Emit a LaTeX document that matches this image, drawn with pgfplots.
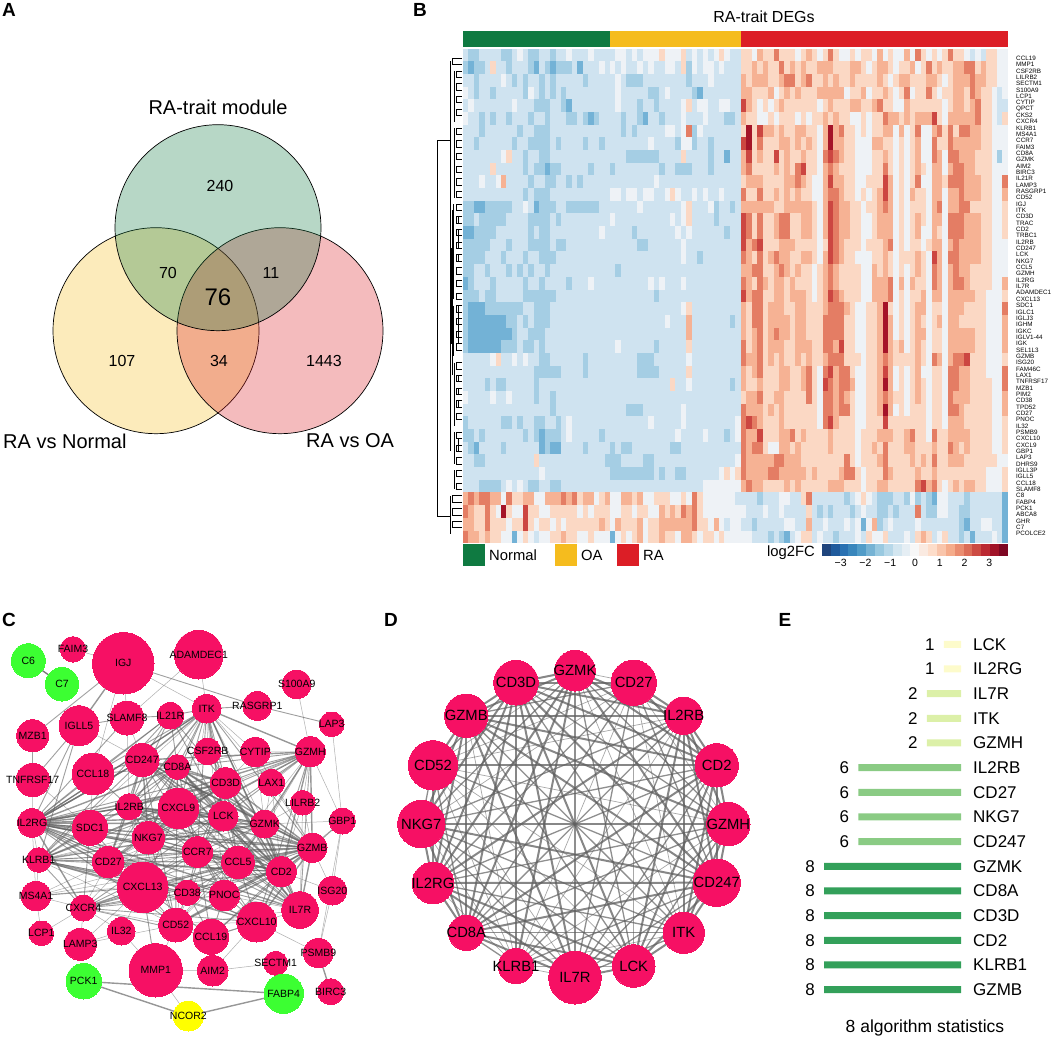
\documentclass[border=0pt]{standalone}
\usepackage{fontspec}
\setmainfont{Liberation Sans}
\usepackage{pgfplots}
\usepackage{pgfplotstable}
\pgfplotsset{compat=1.18}
\newcommand\fs[1]{\fontsize{#1}{#1}\selectfont}
\definecolor{gN}{RGB}{15,122,65}
\definecolor{yO}{RGB}{245,188,30}
\definecolor{rR}{RGB}{220,30,38}
\definecolor{edgeg}{RGB}{95,95,95}
\definecolor{eA}{RGB}{253,251,203}
\definecolor{eB}{RGB}{220,240,168}
\definecolor{eC}{RGB}{138,203,132}
\definecolor{eD}{RGB}{51,160,90}
\pgfdeclareplotmark{hcell}{\pgfpathrectangle{\pgfpoint{-2.85pt}{-6.45pt}}{\pgfpoint{5.7pt}{12.9pt}}\pgfusepathqfill}
\pgfdeclareplotmark{cbcell}{\pgfpathrectangle{\pgfpoint{-4.55pt}{-6pt}}{\pgfpoint{9.1pt}{12pt}}\pgfusepathqfill}
% heatmap: 39 bands x 100 samples; level 0..9 along the colour key (4 is about log2FC 0)
\pgfplotstableread[header=false]{
3 2 2 3 3 3 3 2 2 3  4 3 2 2 3 3 2 3 3 4  3 3 3 4 3 3 3 3 4 4  3 4 3 4 4 4 5 4 4 4  5 3 4 3 4 3 4 5 4 3  3 5 5 4 6 5 5 7 5 5  5 4 5 6 5 4 5 7 5 4  4 5 4 5 5 4 6 4 5 4  4 6 4 7 5 4 5 4 5 7  5 5 4 3 4 3 5 5 4 4
2 1 2 2 3 5 3 3 2 3  3 3 2 1 3 2 1 2 2 2  3 1 3 3 3 4 3 4 3 4  3 3 4 3 4 3 3 4 4 3  5 2 4 3 4 4 3 4 3 3  3 5 5 6 5 6 5 5 7 5  6 5 6 5 5 6 6 6 5 5  5 6 6 5 4 5 6 6 5 4  5 5 6 4 5 7 5 6 5 5  6 6 7 7 5 6 5 5 4 4
3 3 2 3 3 3 3 4 3 2  3 2 3 3 2 3 2 3 3 3  3 3 2 3 3 3 3 3 4 3  2 2 2 3 3 3 3 3 3 3  3 2 3 3 3 4 3 3 3 3  3 6 5 6 6 6 5 5 6 7  7 5 6 7 5 5 6 5 6 5  5 6 5 5 5 5 6 5 4 5  6 6 5 5 5 6 6 5 4 5  6 6 6 7 6 6 5 5 4 4
4 3 2 3 3 2 3 3 3 3  3 2 4 3 2 3 2 3 2 3  3 3 3 3 3 3 3 3 4 3  3 3 3 3 2 2 3 4 3 3  3 3 2 1 3 3 3 3 3 3  3 6 6 5 5 5 6 4 5 6  5 6 5 5 5 6 6 6 6 6  4 5 5 6 4 5 5 6 5 4  5 7 4 5 5 7 5 4 5 5  6 6 5 7 6 5 5 4 3 4
3 4 3 3 3 3 3 3 3 4  3 3 3 2 2 2 3 3 2 1  3 3 3 3 3 3 3 3 4 3  3 3 2 3 3 2 3 3 3 3  4 5 3 4 4 3 3 4 4 3  3 8 6 5 4 5 4 5 6 5  5 5 5 5 5 4 5 6 5 5  5 6 6 5 5 6 7 5 5 4  4 6 5 5 5 5 5 5 4 5  6 6 5 6 7 5 5 4 3 3
4 3 3 2 3 2 3 3 2 3  3 3 2 3 3 2 3 3 3 2  2 3 2 1 2 3 3 3 3 2  3 3 2 1 3 3 2 3 3 3  4 3 3 3 4 3 3 3 2 2  3 6 5 5 4 4 5 4 5 5  5 4 5 4 5 5 6 5 6 5  5 4 4 5 4 5 5 7 6 6  5 6 5 6 6 6 8 5 4 6  6 6 6 6 7 5 5 4 3 5
3 3 3 2 3 3 3 3 3 3  2 3 3 2 2 2 3 3 3 3  3 3 3 3 3 3 3 3 3 2  3 2 3 3 3 3 3 4 4 3  4 7 2 4 3 3 3 3 3 3  3 5 9 5 8 6 6 5 6 5  5 6 6 5 5 4 6 9 6 7  5 5 4 5 4 5 5 6 6 4  6 4 5 7 4 4 6 7 5 7  5 7 7 6 6 5 5 4 4 4
3 3 2 3 3 3 3 3 3 2  3 3 2 2 2 2 3 2 3 3  3 3 2 3 3 2 3 3 3 3  3 3 3 3 4 3 3 3 3 2  4 4 2 3 3 2 3 3 3 3  3 8 9 5 7 5 5 5 6 6  5 6 5 6 5 4 6 9 6 6  5 5 4 4 4 6 6 5 5 4  5 4 5 6 4 4 7 5 5 7  6 6 6 6 6 5 5 4 4 4
3 3 3 3 3 3 3 4 5 3  3 2 3 3 2 2 3 3 3 3  3 3 3 3 3 3 3 3 3 3  2 2 2 2 2 2 3 3 3 3  5 3 3 3 3 2 3 3 1 3  3 6 8 5 6 5 5 8 5 6  5 5 6 5 5 4 7 8 7 6  5 5 4 4 4 5 5 6 5 4  5 4 5 6 4 4 7 6 4 7  7 6 6 6 5 5 5 4 2 4
3 3 3 3 3 5 3 3 3 3  3 2 3 2 2 1 2 2 3 3  3 3 3 2 3 3 3 2 3 3  3 3 3 3 3 3 2 3 3 2  2 2 3 3 3 2 3 3 3 3  3 6 7 5 5 5 5 6 5 6  5 7 8 5 5 4 6 7 6 5  5 5 4 4 4 5 5 7 5 4  5 4 5 6 5 4 6 6 4 6  7 7 6 6 5 5 5 4 4 4
3 3 3 4 3 3 4 6 3 3  3 3 2 3 3 2 2 3 3 2  3 2 3 3 3 3 3 3 3 3  3 3 3 3 3 4 3 3 3 3  3 3 3 3 3 3 3 3 3 3  3 5 6 6 6 5 5 5 5 6  6 7 6 5 4 4 6 8 6 6  5 5 4 4 5 5 5 8 6 4  5 4 5 7 4 4 6 6 5 7  7 7 6 6 6 5 5 4 4 7
3 3 3 3 3 3 3 3 3 3  3 2 3 2 2 2 3 3 3 3  3 3 3 3 3 3 3 4 4 3  4 4 3 4 4 3 3 4 5 4  3 3 4 3 4 3 3 4 3 3  3 7 5 5 7 5 5 6 5 6  5 6 5 5 4 4 6 7 7 6  5 5 4 5 4 5 6 8 6 4  5 4 6 5 5 4 6 6 4 6  6 7 6 6 6 5 5 4 4 6
2 2 1 1 2 2 2 2 2 3  3 4 3 1 2 2 2 3 3 2  2 2 2 2 2 3 3 3 3 3  3 3 4 3 3 3 3 3 3 3  4 5 3 3 3 4 2 3 3 2  3 6 6 6 6 6 6 5 5 6  6 6 6 6 5 4 6 8 7 6  6 5 5 4 5 5 6 7 6 4  5 4 5 5 5 4 6 7 4 6  6 7 7 5 5 5 5 4 4 5
2 2 3 2 2 2 2 2 3 3  3 3 2 2 2 2 3 2 3 3  3 3 3 3 3 3 3 4 3 3  3 3 3 3 3 3 3 3 4 3  4 5 3 3 3 3 2 3 3 3  3 8 7 5 7 5 5 6 7 7  5 5 6 6 5 4 6 8 7 6  6 5 5 4 4 5 6 6 6 4  5 4 5 6 5 4 6 6 4 7  7 7 6 6 6 5 5 4 4 5
1 1 2 2 2 2 3 3 3 3  3 3 2 3 2 2 3 3 3 3  3 3 3 3 3 4 3 3 3 3  3 2 3 3 3 3 3 3 3 4  3 4 3 3 3 3 3 3 2 3  3 8 7 5 7 5 5 6 7 7  5 5 6 6 5 4 6 8 7 6  6 5 5 4 4 5 6 6 6 4  5 4 5 6 4 4 6 5 4 7  7 7 6 6 6 5 5 4 4 5
2 2 2 2 2 3 3 3 2 3  3 3 2 2 2 2 3 2 2 3  3 3 3 3 3 3 3 3 3 3  3 3 2 2 3 3 3 3 3 3  4 3 3 3 3 3 3 3 3 3  3 8 6 7 8 5 5 5 6 6  6 5 5 5 5 4 5 8 7 6  5 5 5 4 5 5 5 6 7 4  5 4 5 5 4 5 6 6 4 6  7 6 6 6 6 5 5 4 4 4
2 2 2 2 3 3 3 2 3 3  3 2 3 3 2 2 2 3 3 3  3 3 3 3 3 3 3 3 3 3  3 3 3 3 3 3 3 3 3 3  4 3 3 2 3 3 3 3 3 3  3 7 6 5 7 5 6 7 6 6  5 5 6 6 5 4 6 8 7 6  5 5 4 4 4 5 5 6 5 4  5 5 5 6 5 4 8 6 4 7  7 6 6 6 6 5 5 4 4 4
2 2 3 3 2 3 3 3 2 3  2 3 2 3 3 2 3 3 3 3  3 3 3 3 3 3 3 3 2 3  3 3 3 3 3 3 3 3 3 3  3 3 3 3 3 3 3 3 3 3  3 6 6 7 7 5 5 6 7 6  5 6 5 5 4 5 6 7 6 5  5 5 5 4 4 6 5 6 5 4  5 4 5 6 5 4 7 6 4 6  7 6 6 5 5 5 5 4 4 4
1 2 3 3 3 2 3 3 3 3  3 2 3 3 2 3 3 3 3 2  3 3 3 4 3 3 3 3 3 3  3 3 3 3 4 3 4 3 3 3  4 3 3 3 3 3 3 3 3 3  3 7 6 5 7 6 5 6 6 5  6 5 5 5 4 5 6 7 6 5  5 5 5 4 4 6 6 6 7 4  6 4 6 5 5 4 7 6 4 6  7 7 6 5 5 5 5 4 4 6
2 2 2 3 2 2 3 3 3 3  3 2 2 2 2 2 2 3 3 3  3 3 3 3 3 3 3 3 3 3  3 3 3 3 3 2 3 3 3 3  3 3 3 3 3 3 3 3 3 3  3 8 6 7 7 5 5 6 6 5  6 6 6 5 4 5 6 8 7 6  5 5 5 4 4 6 6 6 7 4  5 4 5 5 6 4 6 6 4 6  6 6 6 6 5 5 4 4 4 5
2 1 1 1 2 2 2 2 2 2  2 3 3 2 2 2 3 3 3 3  3 3 3 3 3 3 3 3 3 3  3 3 3 3 3 3 3 3 3 3  4 5 3 3 3 3 3 3 3 3  3 6 5 7 7 5 6 6 6 5  5 6 6 5 5 5 6 7 7 7  6 5 4 4 5 5 6 9 5 4  5 4 5 6 6 4 5 5 4 6  6 6 5 5 5 5 4 4 4 7
2 1 1 1 1 1 1 1 2 2  3 2 3 2 2 2 3 3 3 3  3 3 3 3 3 3 3 3 3 3  3 3 3 3 3 3 3 4 3 3  3 6 3 3 3 3 3 3 3 2  3 6 5 7 7 5 6 6 6 6  5 6 6 5 5 5 7 7 7 7  5 5 4 4 5 5 6 9 6 4  5 4 5 6 5 4 5 6 4 6  6 5 5 5 5 5 4 4 4 6
2 1 1 1 1 1 1 1 1 2  3 3 2 2 2 3 3 3 3 3  3 3 3 3 3 3 3 3 3 3  3 3 3 3 3 3 3 3 3 3  3 6 3 3 3 3 3 3 3 3  3 6 5 6 7 5 6 7 6 6  5 6 6 5 5 5 7 7 7 7  5 5 4 4 5 5 6 9 6 4  5 4 5 6 6 4 5 5 4 6  6 6 6 6 5 5 4 4 4 6
2 1 1 1 1 1 1 2 2 2  3 2 2 3 2 3 3 3 3 3  3 3 3 3 3 3 3 3 4 3  3 3 3 3 3 2 3 3 3 3  3 5 3 3 3 3 3 3 3 3  3 7 5 6 7 5 6 6 6 5  5 6 6 6 5 5 7 7 6 8  5 5 4 4 5 5 6 9 6 5  6 4 5 6 5 4 5 5 4 6  6 6 6 6 5 5 4 4 4 6
3 3 3 3 3 4 5 3 3 4  3 4 3 3 2 2 3 3 3 3  3 3 2 3 3 3 3 3 3 3  3 3 2 2 2 3 3 3 3 3  3 4 3 3 3 3 3 3 3 3  3 7 6 6 7 5 6 5 6 5  5 6 5 6 5 5 6 7 7 7  5 5 5 4 5 5 6 7 6 5  5 5 5 6 5 4 7 6 4 6  7 7 8 5 5 5 4 4 4 5
3 3 3 3 3 3 3 3 3 3  3 3 3 2 2 2 2 2 3 3  3 3 2 3 3 3 3 3 3 3  3 3 2 2 2 2 3 3 3 3  3 5 3 3 3 3 3 3 3 3  3 6 5 6 7 5 5 5 6 6  5 5 6 7 5 4 7 8 6 7  7 5 4 4 5 5 6 8 6 4  5 4 5 6 4 4 5 5 4 7  7 6 6 5 5 5 4 4 4 7
3 3 3 3 2 3 2 2 3 3  3 3 3 2 3 3 3 3 3 3  3 3 3 3 3 3 3 3 3 3  3 3 3 3 3 3 3 3 5 3  3 4 3 3 3 3 3 3 3 2  3 6 5 5 6 5 5 5 6 6  5 5 6 7 5 4 8 7 6 7  7 6 4 4 5 5 6 9 6 4  5 4 5 6 5 4 5 5 4 7  7 6 6 5 5 5 5 4 4 7
4 3 3 3 3 4 3 3 4 3  3 3 3 2 3 3 2 3 3 3  3 3 3 3 3 3 3 3 3 3  3 3 3 3 3 3 3 3 3 3  3 3 3 3 3 3 3 3 3 3  3 5 6 6 7 5 5 6 6 5  5 5 5 7 5 4 7 7 6 7  6 5 4 4 5 5 6 7 6 5  5 4 5 6 5 4 5 5 4 7  6 6 6 5 5 5 5 4 4 6
3 3 3 3 3 3 3 3 3 3  3 3 3 3 3 3 2 3 3 3  3 3 3 3 3 3 3 3 3 3  2 2 2 3 3 3 3 3 3 3  4 3 3 3 3 3 3 3 3 3  3 7 6 6 6 5 6 5 6 5  5 5 5 5 5 4 7 7 6 7  7 5 4 4 5 5 6 9 6 4  5 4 5 5 5 4 5 5 4 7  7 6 5 5 5 5 5 4 4 6
2 3 3 3 3 3 3 2 2 3  2 3 3 2 2 3 3 2 3 4  3 3 3 3 3 3 3 3 3 3  3 3 3 3 4 3 3 3 3 3  4 3 3 3 3 3 3 3 3 3  4 7 8 7 6 5 5 5 6 5  5 5 5 5 5 4 7 8 6 5  5 5 4 4 5 5 5 8 5 5  5 5 5 5 5 4 5 5 4 6  6 6 5 5 5 5 5 4 4 5
2 2 3 2 3 3 3 3 3 3  3 2 3 2 1 2 2 2 3 4  3 3 3 3 3 2 3 3 3 3  3 3 3 3 3 3 3 3 3 4  3 3 3 3 4 3 3 3 2 3  4 7 6 6 8 5 5 5 6 6  7 5 6 5 5 5 5 6 5 5  5 5 4 5 5 5 6 6 6 5  5 6 7 5 5 4 7 5 5 6  6 6 6 5 5 5 5 4 4 5
3 2 1 3 3 3 3 2 3 3  3 3 3 3 1 2 1 1 3 3  3 3 2 3 3 3 3 2 3 2  2 3 3 3 3 3 3 3 2 2  3 3 3 3 3 3 3 3 3 3  3 7 6 7 7 5 4 4 6 6  5 6 5 5 5 5 5 6 5 5  5 5 4 5 5 6 5 7 5 5  5 6 6 5 5 5 6 5 5 7  6 5 6 5 5 5 5 4 4 5
3 3 2 2 3 3 3 3 3 3  3 3 3 5 3 3 3 3 3 3  3 3 3 3 3 3 2 2 2 3  3 3 3 2 2 3 3 3 3 3  3 3 3 3 3 3 3 3 3 3  4 7 6 6 6 6 6 7 7 6  6 6 5 5 5 5 5 5 5 5  7 5 4 5 5 5 6 7 5 5  5 5 6 5 6 5 7 5 5 6  6 6 5 5 5 5 5 5 4 4
3 3 3 3 3 3 3 3 3 3  3 3 3 3 4 3 3 3 3 3  3 3 3 3 3 3 3 2 2 2  2 2 2 2 2 3 2 3 3 2  2 3 3 3 3 3 3 4 5 4  5 7 6 6 6 6 7 7 6 6  6 6 6 5 6 5 5 5 5 6  7 7 5 4 5 5 5 7 6 5  5 5 5 6 5 5 6 5 5 5  5 5 5 5 5 5 4 4 4 5
3 3 3 2 2 2 2 3 4 3  4 3 2 2 3 3 2 2 3 3  3 3 3 3 3 3 3 3 3 3  3 3 3 3 3 3 3 3 3 3  3 3 3 3 4 4 4 4 4 4  4 6 7 6 6 5 5 5 5 6  5 6 5 5 5 5 5 6 6 6  5 5 5 4 5 5 6 6 5 5  5 5 5 7 8 6 7 5 4 5  6 5 6 6 5 5 4 4 4 5
6 7 6 7 7 6 6 4 7 5  5 6 6 4 4 6 6 6 7 6  7 5 6 6 4 5 6 4 4 6  6 5 6 4 4 5 5 5 4 4  5 4 7 5 4 4 4 4 4 4  3 3 3 3 2 3 3 3 4 4  3 3 5 7 3 3 3 3 3 3  2 3 4 5 4 3 2 2 2 3  3 2 4 2 3 2 1 4 4 3  3 3 2 3 3 3 3 3 3 1
7 6 5 5 7 5 4 9 5 4  4 8 5 5 4 4 5 5 5 5  5 4 5 4 5 5 5 4 4 5  5 4 5 5 4 4 6 5 6 5  7 6 7 5 4 4 4 4 4 4  4 4 3 3 3 4 3 3 4 3  3 3 3 5 3 2 3 2 3 3  3 2 3 4 3 3 2 2 3 2  3 3 3 7 3 2 2 4 4 3  3 2 2 3 3 3 3 3 3 1
6 6 5 5 7 5 5 5 4 5  5 8 5 4 5 5 4 5 4 5  5 5 5 5 5 6 5 4 6 5  5 5 6 4 5 5 6 6 6 6  6 6 7 5 5 4 6 4 3 4  4 3 3 2 3 3 3 3 3 4  4 3 3 6 3 3 4 3 3 3  4 3 4 1 4 6 2 3 4 3  3 3 3 4 3 3 3 3 3 3  3 2 1 3 3 4 4 3 3 1
7 6 6 5 6 5 5 4 4 1  4 5 4 3 4 4 5 5 6 5  5 4 4 5 4 4 4 1 4 5  4 5 6 4 5 5 6 5 5 4  6 6 5 4 5 5 4 5 4 4  4 4 4 3 3 3 2 3 2 1  3 4 5 5 3 4 3 3 2 3  3 3 4 3 5 4 4 5 3 3  3 4 3 5 6 5 3 4 5 3  3 2 3 1 3 3 3 4 3 1
}\hm
\pgfplotstableread{
x y r c name
73.0 649.3 12.7 0 FAIM3
123.3 663.3 30.7 0 IGJ
198.7 654.7 24.3 0 ADAMDEC1
28.3 660.7 17 1 C6
62 684.3 16.7 1 C7
296.7 684.3 14.3 0 S100A9
206.7 708.7 14.3 0 ITK
257.3 706 14.3 0 RASGRP1
170.3 715.7 13.3 0 IL21R
127 718 17 0 SLAMF8
79 725.7 20 0 IGLL5
331.7 724.3 12.3 0 LAP3
32.7 735.7 16 0 MZB1
142.3 760 16.7 0 CD247
207.7 751.3 13.3 0 CSF2RB
255.3 752 14.7 0 CYTIP
310.3 751.7 15 0 GZMH
177.3 767 12.3 0 CD8A
93 774 20.7 0 CCL18
32.7 780 16.7 0 TNFRSF17
225.7 783 15.3 0 CD3D
271.3 782.7 13.3 0 LAX1
302.7 802.7 12.3 0 LILRB2
178.3 808.3 20.3 0 CXCL9
129.3 806.7 13 0 IL2RB
223.3 816.3 14.7 0 LCK
32 823 14.3 0 IL2RG
342.3 821 13 0 GBP1
264.7 824 14 0 GZMK
90 827.7 17.7 0 SDC1
148.3 837.7 16.3 0 NKG7
312.3 847.7 14.7 0 GZMB
197.3 852 15.3 0 CCR7
238 862.3 16.3 0 CCL5
38.7 860 12.3 0 KLRB1
108.3 862 15.7 0 CD27
281.3 871.7 15 0 CD2
142.7 887.3 25.3 0 CXCL13
187.3 892.7 12.7 0 CD38
332.3 890.7 14.3 0 ISG20
224.3 895.3 15.3 0 PNOC
36 896 14.7 0 MS4A1
83.3 908 13 0 CXCR4
300 910 18.3 0 IL7R
256.7 922 20 0 CXCL10
175.7 925 17 0 CD52
121.3 931.3 13.7 0 IL32
41.3 933.3 12.3 0 LCP1
211 936.7 17.7 0 CCL19
80.3 944.3 16 0 LAMP3
318.3 953 14.7 0 PSMB9
212.7 970.7 15.3 0 AIM2
155.7 970.3 26.7 0 MMP1
275.7 963.3 12 0 SECTM1
83.7 981.3 17.7 1 PCK1
283.7 993.7 19.7 1 FABP4
330.7 991.7 13 0 BIRC3
188.3 1016 15 2 NCOR2
}\Cn
\pgfplotstableread{
x y r cid name
575 670.7 20.3 28 GZMK
633.7 682.7 22.7 35 CD27
683.7 715.7 18.7 24 IL2RB
716.7 765.3 21.7 36 CD2
728.3 824 21.7 16 GZMH
716.7 882.7 23.7 13 CD247
683.7 932.7 20.7 6 ITK
633.7 966 21.3 25 LCK
575 977.7 26.3 43 IL7R
516 966 17.7 34 KLRB1
466.3 932.7 17.7 17 CD8A
433 883 20.7 26 IL2RG
421.3 824 23.7 30 NKG7
433 765.3 24.7 45 CD52
466.3 715.7 21.7 31 GZMB
516 682.7 22.3 20 CD3D
}\Dn
% network edges of panel D (row numbers of \Dn)
\def\Dthick{0/2,0/3,0/5,0/9,0/10,0/11,0/14,0/15,1/2,1/3,1/15,2/3,2/4,2/5,2/6,2/7,2/11,2/14,2/15,3/4,3/5,3/6,3/7,3/10,3/13,3/14,3/15,4/5,4/6,4/12,4/14,5/6,5/7,5/10,5/11,5/12,5/14,5/15,6/7,7/8,7/10,7/11,7/15,8/10,8/11,8/14,8/15,9/15,10/11,10/12,10/14,10/15,11/12,11/14,11/15,12/14,12/15,13/14,14/15}
\def\Dmed{0/4,0/7,0/8,0/12,1/5,1/8,1/10,1/11,1/14,2/8,2/10,2/12,3/8,3/9,3/11,3/12,4/7,4/8,4/10,4/11,4/15,5/8,5/9,5/13,6/8,6/10,6/11,6/12,6/14,6/15,7/12,7/14,8/12,9/10,10/13,11/13,12/13,13/15}
\def\Dthin{0/1,0/6,0/13,1/4,1/6,1/7,1/9,1/12,1/13,2/13,2/9,4/9,4/13,6/9,6/13,7/9,7/13,9/13,9/12,9/11,8/9,8/13,9/14}
% further edges of panel C (row numbers of \Cn)
\def\Cthick{1/10,50/56,54/55,54/57,57/55,3/4,32/33,32/26,33/31,33/26,23/26,23/31,37/26,37/34,37/35,38/34,40/31,44/36,44/31,6/26,13/26,24/26,32/36,32/31,37/42,42/26}
\def\Cmed{1/12,1/7,6/7,7/11,6/8,8/9,9/10,10/19,12/19,3/4,27/31,52/37,18/26,10/34,32/6,32/13,32/17,32/20,32/24,32/25,32/28,32/34,32/35,32/37,32/38,32/40,32/43,32/44,32/48,32/42,33/6,33/13,33/16,33/17,33/20,33/25,33/28,33/30,33/34,33/36,33/37,33/38,33/40,33/42,33/43,33/44,23/6,23/16,23/17,23/20,23/25,23/28,23/30,23/36,23/37,23/40,23/43,23/44,23/35,23/34,37/29,37/41,37/45,37/38,37/44,37/48,37/36,37/31,29/26,29/24,29/34,29/35,29/42,38/26,38/31,38/36,38/42,38/44,38/48,40/26,40/34,40/36,40/42,40/44,40/48,44/26,44/34,44/16,44/42,44/48,48/31,48/36,48/42,42/31,42/36,42/16,42/34,8/13,8/17,8/20,8/24,8/26,8/34,8/25,18/13,18/24,18/6,18/8,18/17,9/26,10/26}
\def\Cthin{0/1,1/9,1/6,1/18,2/6,2/9,5/16,11/27,27/50,27/39,50/39,50/44,51/53,51/48,51/44,52/45,52/51,52/57,47/42,42/49,49/46,49/45,49/37,46/52,46/37,46/42,41/47,41/34,19/26,19/29,18/29,10/13,9/13,9/24,32/41,33/24,33/35,33/45,23/42,37/28,37/30,37/25,37/24,41/26,41/36,41/31,41/35,42/41,42/45,42/35,15/6,15/16,15/20,15/17,15/31,15/28,14/6,14/17,14/20,14/28,14/36,21/16,21/6,21/28,21/31,21/36,22/16,22/28,22/31,22/36,22/43,40/6,40/16,44/45,48/45,48/43,36/39,31/39,36/27,28/27,16/27}
\newcommand\netedge[3]{% table, a, b
  \pgfplotstablegetelem{#2}{x}\of#1\let\xa\pgfplotsretval
  \pgfplotstablegetelem{#2}{y}\of#1\let\ya\pgfplotsretval
  \pgfplotstablegetelem{#3}{x}\of#1\let\xb\pgfplotsretval
  \pgfplotstablegetelem{#3}{y}\of#1\let\yb\pgfplotsretval
  \edef\tmp{\noexpand\addplot[edgeg,draw opacity=\eop,line width=\elw,forget plot] coordinates {(\xa,\ya)(\xb,\yb)};}\tmp}
\newcommand\Dedges[3]{\def\elw{#2}\def\eop{#3}\foreach \a/\b in #1 {\netedge{\Dn}{\a}{\b}}}
\newcommand\CedgesD[3]{\def\elw{#2}\def\eop{#3}\foreach \a/\b in #1 {%
  \pgfplotstablegetelem{\a}{cid}\of\Dn\let\ca\pgfplotsretval
  \pgfplotstablegetelem{\b}{cid}\of\Dn\let\cb\pgfplotsretval
  \netedge{\Cn}{\ca}{\cb}}}
\newcommand\Cedges[3]{\def\elw{#2}\def\eop{#3}\foreach \a/\b in #1 {\netedge{\Cn}{\a}{\b}}}
% dendrogram helpers (row numbers)
\newcommand\br[3]{\pgfmathsetmacro\ya{55+6.342*(#2+.5)}\pgfmathsetmacro\yb{55+6.342*(#3+.5)}%
  \edef\tmp{\noexpand\addplot[black,line width=.55pt,forget plot] coordinates {(462,\ya)(#1,\ya)(#1,\yb)(462,\yb)};}\tmp}
\newcommand\spn[3]{\pgfmathsetmacro\ya{55+6.342*(#2+.5)}\pgfmathsetmacro\yb{55+6.342*(#3+.5)}%
  \edef\tmp{\noexpand\addplot[black,line width=.55pt,forget plot] coordinates {(#1,\ya)(#1,\yb)};}\tmp}
\newcommand\T[5][center]{\node[anchor=#1,inner sep=0pt,text=black,font=\fs{#4}] at (axis cs:#2,#3) {#5};}
\newcommand\tblname[2]{\pgfmathtruncatemacro\ii{#2}\pgfplotstablegetelem{\ii}{name}\of#1\pgfplotsretval}
\pgfplotsset{netnodes/.style={scatter,only marks,mark=*,
  scatter/use mapped color={draw=mapped color,fill=mapped color},
  mark options={line width=0pt},
  visualization depends on={\thisrow{r}\as\rr},
  visualization depends on={\coordindex\as\idx},
  scatter/@pre marker code/.append style={/tikz/mark size=\rr}}}
\begin{document}
\begin{tikzpicture}
\useasboundingbox (0,0) rectangle (1052pt,1040pt);
\begin{axis}[at={(0,0)},anchor=south west,scale only axis,width=1052pt,height=1040pt,
  xmin=0,xmax=1052,ymin=0,ymax=1040,y dir=reverse,hide axis,clip=false,
  colormap={net}{rgb255=(246,16,100) rgb255=(60,255,50) rgb255=(255,255,0)},
  point meta min=0,point meta max=2]
% Venn
\addplot[only marks,mark=*,mark size=103,mark options={fill=yO,fill opacity=.3,draw=black,draw opacity=1,line width=.7pt}] coordinates {(156,330.7)};
\addplot[only marks,mark=*,mark size=103,mark options={fill=rR,fill opacity=.3,draw=black,draw opacity=1,line width=.7pt}] coordinates {(280,330.7)};
\addplot[only marks,mark=*,mark size=103,mark options={fill=gN,fill opacity=.3,draw=black,draw opacity=1,line width=.7pt}] coordinates {(218,227.7)};
% B: annotation bar, legend
\addplot[fill=gN,draw=none,forget plot] coordinates {(463,31)(610,31)(610,47)(463,47)} --cycle;
\addplot[fill=yO,draw=none,forget plot] coordinates {(610,31)(741,31)(741,47)(610,47)} --cycle;
\addplot[fill=rR,draw=none,forget plot] coordinates {(741,31)(1008,31)(1008,47)(741,47)} --cycle;
\addplot[only marks,mark=square*,mark size=10.5,gN,forget plot] coordinates {(473.5,554.5)};
\addplot[only marks,mark=square*,mark size=10.5,yO,forget plot] coordinates {(565.5,554.5)};
\addplot[only marks,mark=square*,mark size=10.5,rR,forget plot] coordinates {(627.5,554.5)};
% dendrogram
\addplot[black,line width=.55pt,forget plot] coordinates {(450,140)(437,140)(437,516)(450,516)};
\spn{450}{0.5}{62}\spn{450}{69}{75}
\foreach \r in {0,69,71,73} {\br{452}{\r}{\the\numexpr\r+1\relax}}
\foreach \r in {2,4,6,8,11,13,15,17,19,21,23,25,27,29,31,33,35,37,39,41,43,45,48,50,52,54,56,59,61,63,65,67} {\br{456}{\r}{\the\numexpr\r+1\relax}}
\foreach \r in {25,27,28,29,31,39,40,41,42,43,44,50,52,54,60,61} {\br{458.5}{\r}{\the\numexpr\r+1\relax}}
\spn{454}{2}{10}\spn{454}{11}{22}\spn{453.5}{23}{38}\spn{453.5}{39}{47}\spn{454}{48}{58}\spn{454}{59}{64}\spn{454}{65}{68}
\spn{451.5}{30}{45}\spn{452.5}{24}{50}
% network edges, panel D
\Dedges{\Dthin}{.7pt}{.55}
\Dedges{\Dmed}{1.3pt}{.7}
\Dedges{\Dthick}{2pt}{.75}
% network edges, panel C
\Cedges{\Cthin}{.5pt}{.5}
\CedgesD{\Dthin}{.5pt}{.5}
\Cedges{\Cmed}{.9pt}{.6}
\CedgesD{\Dmed}{.9pt}{.6}
\CedgesD{\Dthick}{1.4pt}{.65}
\Cedges{\Cthick}{1.4pt}{.65}
% nodes
\addplot[netnodes,point meta=\thisrow{c},
  nodes near coords*={\tblname{\Cn}{\idx}},
  every node near coord/.style={anchor=center,inner sep=0pt,text=black,font=\fs{10.5}}] table[x=x,y=y] {\Cn};
\addplot[netnodes,point meta=0,
  nodes near coords*={\tblname{\Dn}{\idx}},
  every node near coord/.style={anchor=center,inner sep=0pt,text=black,font=\fs{14.8}}] table[x=x,y=y] {\Dn};
\end{axis}
% texts, over everything drawn so far
\begin{axis}[at={(0,0)},anchor=south west,scale only axis,width=1052pt,height=1040pt,
  xmin=0,xmax=1052,ymin=0,ymax=1040,y dir=reverse,hide axis,clip=false]
\T{218}{107}{20}{RA-trait module}
\T[west]{3}{441}{20}{RA vs Normal}
\T[west]{306}{441}{20}{RA vs OA}
\T{220}{186}{16}{240}\T{168}{273}{16}{70}\T{271}{273}{16}{11}\T{218}{297}{24}{76}
\T{122}{361}{16}{107}\T{219}{361}{16}{34}\T{324}{361}{16}{1443}
\T{9}{10}{19}{\bfseries A}\T{420}{10}{19}{\bfseries B}\T{9}{620}{19}{\bfseries C}\T{391}{620}{19}{\bfseries D}\T{785}{620}{19}{\bfseries E}
\T{764}{17}{16}{RA-trait DEGs}
\T[west]{489}{555}{14.8}{Normal}\T[west]{581}{555}{14.8}{OA}\T[west]{643}{555}{14.8}{RA}
\T[east]{815}{553}{14.8}{log2FC}
\T{925}{1028}{17.5}{8 algorithm statistics}
\end{axis}
% heatmap
\begin{axis}[at={(463pt,985pt)},anchor=north west,scale only axis,width=545pt,height=482pt,
  xmin=-0.5,xmax=99.5,ymin=-0.5,ymax=75.5,y dir=reverse,clip mode=global,
  axis line style={draw=none},major tick length=0pt,xtick=\empty,
  ytick={0,...,75},yticklabel pos=right,
  yticklabels={CCL19,MMP1,CSF2RB,LILRB2,SECTM1,S100A9,LCP1,CYTIP,QPCT,CKS2,CXCR4,KLRB1,MS4A1,CCR7,FAIM3,CD8A,GZMK,AIM2,BIRC3,IL21R,LAMP3,RASGRP1,CD52,IGJ,ITK,CD3D,TRAC,CD2,TRBC1,IL2RB,CD247,LCK,NKG7,CCL5,GZMH,IL2RG,IL7R,ADAMDEC1,CXCL13,SDC1,IGLC1,IGLJ3,IGHM,IGKC,IGLV1-44,IGK,SEL1L3,GZMB,ISG20,FAM46C,LAX1,TNFRSF17,MZB1,PIM2,CD38,TPD52,CD27,PNOC,IL32,PSMB9,CXCL10,CXCL9,GBP1,LAP3,DHRS9,IGLL3P,IGLL5,CCL18,SLAMF8,C8,FABP4,PCK1,ABCA8,GHR,C7,PCOLCE2},
  y tick label style={font=\fs{6.3},anchor=west,inner sep=0pt,xshift=8pt},
  point meta min=0,point meta max=9,
  colormap={lv}{rgb255=(67,147,195) rgb255=(115,178,214) rgb255=(165,206,228) rgb255=(207,227,240) rgb255=(238,242,246) rgb255=(251,216,196) rgb255=(246,178,148) rgb255=(228,125,100) rgb255=(204,70,65) rgb255=(165,20,40)}]
\pgfplotsinvokeforeach{0,...,99}{
  \addplot[scatter,only marks,mark=hcell,point meta=explicit,forget plot,
    scatter/use mapped color={draw=none,fill=mapped color}]
    table[x expr=#1,y expr=2*\coordindex-0.5,meta=#1] {\hm};
}
\end{axis}
% colour key
\begin{axis}[at={(822pt,496pt)},anchor=north west,scale only axis,width=186pt,height=12pt,
  xmin=-3.75,xmax=3.75,ymin=0,ymax=1,clip mode=global,
  axis line style={draw=none},major tick length=0pt,ytick=\empty,
  xtick={-3,...,3},xticklabels={−3,−2,−1,0,1,2,3},
  x tick label style={font=\fs{10.5},inner sep=0pt,yshift=-3pt},
  point meta min=-3.8,point meta max=3.8,
  colormap={rdbu}{rgb255=(30,55,105) rgb255=(33,102,172) rgb255=(67,147,195) rgb255=(146,197,222) rgb255=(209,229,240) rgb255=(247,247,247) rgb255=(253,219,199) rgb255=(244,165,130) rgb255=(214,96,77) rgb255=(178,24,43) rgb255=(103,0,31)}]
\addplot[scatter,only marks,mark=cbcell,point meta=x,scatter/use mapped color={draw=none,fill=mapped color}] coordinates {(-3.571,.5)(-3.214,.5)(-2.857,.5)(-2.5,.5)(-2.143,.5)(-1.786,.5)(-1.429,.5)(-1.071,.5)(-.714,.5)(-.357,.5)(0,.5)(.357,.5)(.714,.5)(1.071,.5)(1.429,.5)(1.786,.5)(2.143,.5)(2.5,.5)(2.857,.5)(3.214,.5)(3.571,.5)};
\end{axis}
% panel E
\begin{axis}[at={(824pt,408pt)},anchor=north west,scale only axis,width=137pt,height=370pt,
  xmin=0,xmax=8,x dir=reverse,ymin=.5,ymax=15.5,y dir=reverse,clip=false,
  axis line style={draw=none},major tick length=0pt,xtick=\empty,
  xbar,bar width=7pt,bar shift=0pt,
  ytick={1,...,15},yticklabel pos=right,
  yticklabels={LCK,IL2RG,IL7R,ITK,GZMH,IL2RB,CD27,NKG7,CD247,GZMK,CD8A,CD3D,CD2,KLRB1,GZMB},
  y tick label style={font=\fs{17},anchor=west,inner sep=0pt,xshift=12pt},
  /pgf/number format/assume math mode=true,
  nodes near coords,point meta=x,
  every node near coord/.style={anchor=east,xshift=-9pt,font=\fs{17},text=black,inner sep=0pt}]
\addplot[fill=eA,draw=none] coordinates {(1,1)(1,2)};
\addplot[fill=eB,draw=none] coordinates {(2,3)(2,4)(2,5)};
\addplot[fill=eC,draw=none] coordinates {(6,6)(6,7)(6,8)(6,9)};
\addplot[fill=eD,draw=none] coordinates {(8,10)(8,11)(8,12)(8,13)(8,14)(8,15)};
\end{axis}
\end{tikzpicture}
\end{document}
